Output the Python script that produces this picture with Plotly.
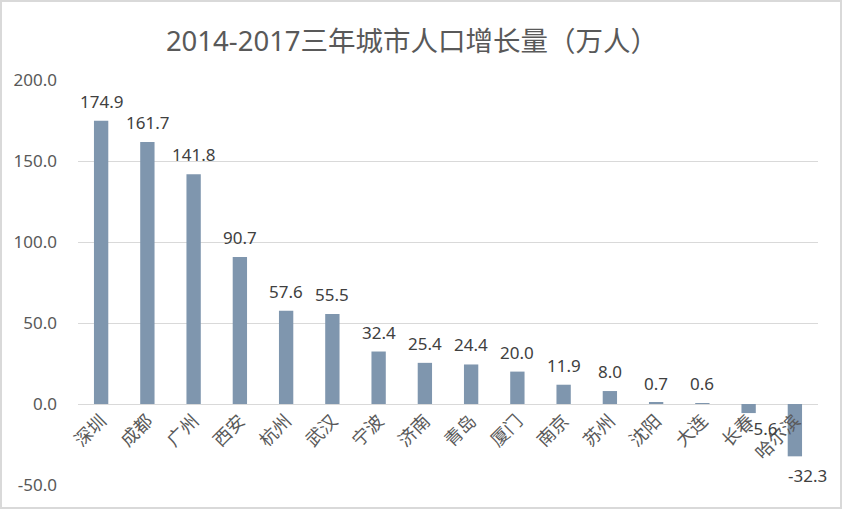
import plotly.graph_objects as go

cities = ["深圳", "成都", "广州", "西安", "杭州", "武汉", "宁波", "济南", "青岛", "厦门",
          "南京", "苏州", "沈阳", "大连", "长春", "哈尔滨"]
growth = [174.9, 161.7, 141.8, 90.7, 57.6, 55.5, 32.4, 25.4, 24.4, 20.0,
          11.9, 8.0, 0.7, 0.6, -5.6, -32.3]
y_ticks = [-50, 0, 50, 100, 150, 200]
title = "2014-2017三年城市人口增长量（万人）"

W, H = 842, 509
ML, MR, MT, MB = 78, 24, 80, 24
ymin, ymax = -50, 200

FONT = "'Noto Sans', 'Noto Sans CJK SC', sans-serif"
CJK = "'Noto Sans CJK SC', sans-serif"
GRAY = "#595959"
LBL = "#404040"

fig = go.Figure()
fig.add_trace(go.Bar(
    x=cities, y=growth,
    marker=dict(color="#7F96AE", line=dict(width=0)),
    width=0.31,
    hoverinfo="x+y",
))

annotations = []
for c, v in zip(cities, growth):
    txt = f"{v:.1f}"
    f = dict(size=17, color=LBL, family=FONT)
    if v >= 0:
        annotations.append(dict(x=c, y=v, text=txt, showarrow=False, yanchor="bottom",
                                yshift=6, font=f))
    elif v > -10:
        annotations.append(dict(x=c, y=v, text=txt, showarrow=False, yanchor="top",
                                xanchor="left", xshift=-3, yshift=-2, font=f))
    else:
        annotations.append(dict(x=c, y=v, text=txt, showarrow=False, yanchor="top",
                                xshift=13, yshift=-6, font=f))

pw = W - ML - MR
ph = H - MT - MB
x0p, x1p = -ML / pw, (W - ML) / pw
y0p, y1p = -MB / ph, (H - MB) / ph

fig.update_layout(
    width=W, height=H,
    margin=dict(l=ML, r=MR, t=MT, b=MB, autoexpand=False),
    paper_bgcolor="white", plot_bgcolor="white",
    title=dict(text=title, x=412 / W, xref="container", xanchor="center",
               y=1 - 41 / H, yref="container", yanchor="middle",
               font=dict(size=27.5, color=GRAY, family=FONT)),
    showlegend=False,
    xaxis=dict(
        type="category", anchor="free", position=(0 - ymin) / (ymax - ymin),
        range=[-0.5, len(cities) - 0.5], domain=[0, 1],
        showline=False, showgrid=False, zeroline=False, ticks="", automargin=False,
        tickangle=-45, tickfont=dict(size=18, color=GRAY, family=CJK),
        ticklabelstandoff=2,
    ),
    yaxis=dict(
        range=[ymin, ymax], tickvals=y_ticks, ticktext=[f"{t:.1f}" for t in y_ticks],
        showgrid=True, gridcolor="#D9D9D9", gridwidth=1, zeroline=True, zerolinecolor="#D9D9D9",
        zerolinewidth=1, showline=False, ticks="", automargin=False,
        tickfont=dict(size=17, color=GRAY, family=FONT), ticklabelstandoff=20,
    ),
    annotations=annotations,
    shapes=[dict(type="rect", xref="paper", yref="paper", x0=x0p + 1 / pw, x1=x1p - 1 / pw,
                 y0=y0p + 1 / ph, y1=y1p - 1 / ph, line=dict(color="#D9D9D9", width=2),
                 layer="below")],
)

fig.write_html("out.html", config={"displayModeBar": False},
               post_script="document.body.style.margin='0';")
